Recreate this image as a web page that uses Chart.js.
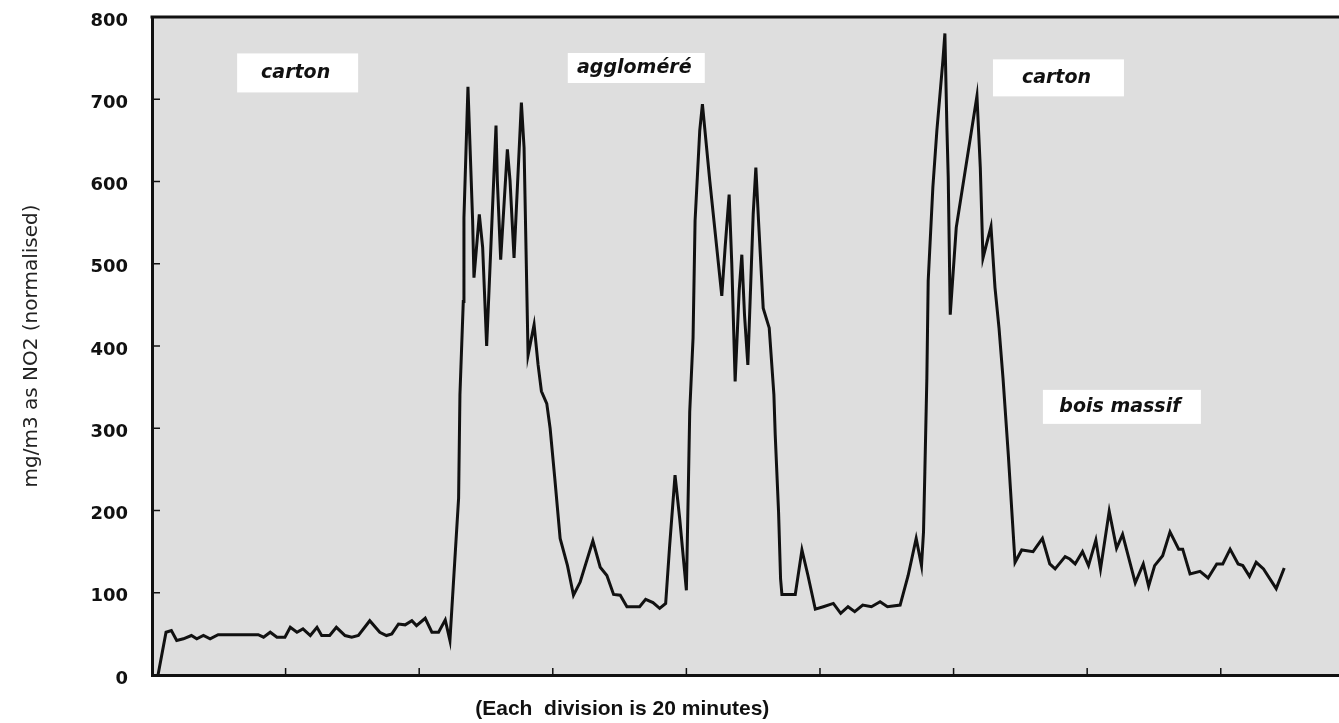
<!DOCTYPE html>
<html>
<head>
<meta charset="utf-8">
<script src="https://cdn.jsdelivr.net/npm/chart.js@4/dist/chart.umd.min.js"></script>
<style>
html,body{margin:0;padding:0;background:#fff;overflow:hidden}
#wrap{width:1339px;height:723px;position:relative}
</style>
</head>
<body>
<div id="wrap"><canvas id="c" width="1339" height="723"></canvas></div>
<script>
// ---- data (time in minutes, value in mg/m3 as NO2) ----
const minutes = [0.9,2.1,2.9,3.7,4.7,5.9,6.7,7.7,8.7,9.9,15.9,16.7,17.7,18.7,19.9,20.7,21.7,22.6,23.7,24.7,25.4,26.6,27.6,28.9,29.9,30.9,32.6,34.1,35.1,35.9,36.9,37.9,38.9,39.6,40.9,41.9,42.9,43.9,44.6,
 45.9,46.1,46.6,46.7,47.3,
 47.6,48.0,48.2,49.0,49.5,50.1,
 51.5,51.7,52.2,53.2,53.6,54.2,
 55.3,55.7,56.3,57.2,57.8,
 58.3,59.1,59.6,60.3,61.1,62.2,63.1,64.1,
 66.0,67.1,68.1,69.1,70.1,71.1,73.0,73.9,75.0,76.0,76.9,
 77.5,78.3,79.0,80.0,80.3,80.5,81.0,81.3,82.0,82.4,
 83.5,85.3,85.8,86.4,86.8,87.3,87.9,88.3,88.7,89.2,
 90.0,90.4,90.8,91.5,92.4,93.1,93.3,93.8,94.1,94.3,
 96.3,97.3,98.2,99.3,100.5,102.0,103.1,104.2,105.2,106.4,
 107.7,109.0,110.1,112.0,113.2,114.4,115.2,115.5,115.7,116.0,
 116.2,116.9,117.5,118.4,118.7,119.0,119.2,119.5,120.4,
 123.5,124.0,124.4,125.6,126.2,126.8,127.4,128.2,129.2,
 130.2,131.9,133.3,134.4,135.2,136.7,137.4,138.2,139.3,140.2,
 141.3,142.0,143.3,144.4,145.3,147.2,148.4,149.2,150.1,151.3,
 152.4,153.7,154.3,155.4,156.9,158.1,159.4,160.3,161.4,162.6,
 163.3,164.3,165.3,166.4,168.3,169.5];
const no2 = [0,52,54,42,44,48,44,48,44,49,49,46,52,46,46,58,52,56,48,58,48,48,58,48,46,48,66,52,48,50,62,61,66,60,69,52,52,67,42,
 215,341,454,556,715,
 645,552,483,560,520,400,
 668,601,505,639,601,507,
 696,641,389,426,377,
 345,330,300,239,166,133,97,113,
 163,131,121,98,97,83,83,92,88,81,87,
 158,243,190,103,231,320,410,552,662,694,
 601,461,520,584,499,357,467,511,438,377,
 560,617,552,446,422,341,292,198,117,98,
 98,152,121,80,83,87,75,83,77,85,
 83,89,83,85,121,166,133,174,247,361,
 479,593,662,747,780,666,605,438,544,
 704,617,507,545,471,422,361,267,137,
 152,150,166,135,129,144,141,135,150,133,
 164,129,199,154,171,112,135,108,133,145,
 174,153,153,123,126,118,135,135,153,135,
 133,120,137,129,105,130];
const yTicks = [0,100,200,300,400,500,600,700,800];
const xDivisions = [20,40,60,80,100,120,140,160];
const labelTexts = ['carton','aggloméré','carton','bois massif'];
const yTitle = 'mg/m3 as NO2 (normalised)';
const xTitle = '(Each  division is 20 minutes)';

// ---- layout / style ----
const labelAnchors = [ // data-unit centres and box sizes in px
  {t:21.8, v:732, w:121, h:39},
  {t:72.5, v:738, w:137, h:30},
  {t:135.7, v:726, w:131, h:37},
  {t:145.2, v:326, w:158, h:34}
];
const xTitleAt = 70.4;

const framePlugin = {
  id: 'frame',
  beforeDraw(chart) {
    const {ctx, chartArea: a} = chart;
    ctx.save();
    ctx.fillStyle = '#dedede';
    ctx.fillRect(a.left, a.top, a.right - a.left, a.bottom - a.top);
    ctx.restore();
  },
  afterDatasetsDraw(chart) {
    const {ctx, chartArea: a, scales: {x, y}} = chart;
    ctx.save();
    ctx.strokeStyle = '#111';
    ctx.lineWidth = 1.5;
    yTicks.forEach(v => {
      if (v <= 0 || v >= 800) return;
      const py = y.getPixelForValue(v);
      ctx.beginPath(); ctx.moveTo(a.left, py); ctx.lineTo(a.left + 8, py); ctx.stroke();
    });
    xDivisions.forEach(t => {
      const px = x.getPixelForValue(t);
      ctx.beginPath(); ctx.moveTo(px, a.bottom); ctx.lineTo(px, a.bottom - 7); ctx.stroke();
    });
    ctx.lineWidth = 3;
    ctx.beginPath(); ctx.moveTo(a.left - 1.5, a.top); ctx.lineTo(a.right, a.top); ctx.stroke();

    ctx.font = 'italic bold 19px "DejaVu Sans"';
    ctx.textAlign = 'center';
    ctx.textBaseline = 'middle';
    labelTexts.forEach((txt, i) => {
      const an = labelAnchors[i];
      const cx = x.getPixelForValue(an.t), cy = y.getPixelForValue(an.v);
      ctx.fillStyle = '#ffffff';
      ctx.fillRect(cx - an.w / 2, cy - an.h / 2, an.w, an.h);
      ctx.fillStyle = '#111';
      ctx.fillText(txt, cx - 2, cy);
    });

    ctx.font = 'bold 21px "Liberation Sans"';
    ctx.fillStyle = '#111';
    ctx.fillText(xTitle, x.getPixelForValue(xTitleAt), a.bottom + 34);
    ctx.restore();
  }
};

new Chart(document.getElementById('c'), {
  type: 'line',
  data: {
    datasets: [{
      data: minutes.map((t, i) => ({x: t, y: no2[i]})),
      borderColor: '#111',
      borderWidth: 3,
      pointRadius: 0,
      tension: 0,
      fill: false,
      borderJoinStyle: 'miter'
    }]
  },
  options: {
    responsive: false,
    animation: false,
    devicePixelRatio: 1,
    layout: {padding: {top: 17, right: 0, left: 0, bottom: 0}},
    plugins: {legend: {display: false}, tooltip: {enabled: false}},
    scales: {
      x: {
        type: 'linear',
        min: 0,
        max: 177.7,
        ticks: {display: false},
        grid: {display: false},
        border: {display: true, color: '#111', width: 3},
        afterFit(s) { s.height = 48; s.paddingLeft = 0; s.paddingRight = 0; s.paddingTop = 0; s.paddingBottom = 0; }
      },
      y: {
        min: 0,
        max: 800,
        afterBuildTicks(s) { s.ticks = yTicks.map(v => ({value: v})); },
        ticks: {
          color: '#111',
          padding: 24,
          labelOffset: 4,
          font: {family: 'DejaVu Sans', size: 18, weight: 'bold'}
        },
        grid: {display: false, drawTicks: false},
        border: {display: true, color: '#111', width: 3},
        title: {
          display: true,
          text: yTitle,
          color: '#222',
          font: {family: 'DejaVu Sans', size: 20},
          padding: {top: 20, bottom: 0}
        },
        afterFit(s) { s.width = 152; s.paddingTop = 0; s.paddingBottom = 0; s.paddingLeft = 0; s.paddingRight = 0; }
      }
    }
  },
  plugins: [framePlugin]
});
</script>
</body>
</html>
